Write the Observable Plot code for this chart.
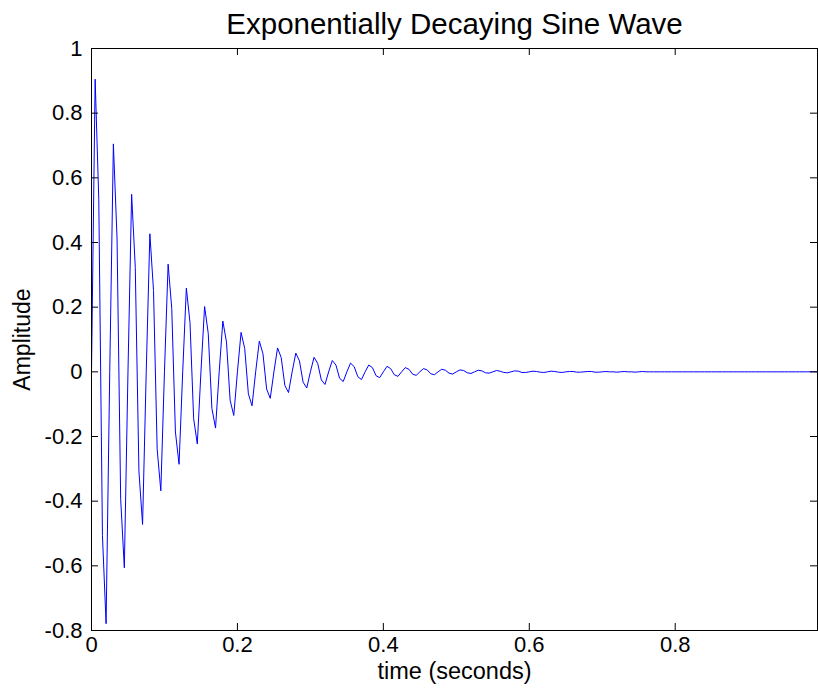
<!DOCTYPE html>
<html>
<head>
<meta charset="utf-8">
<script src="https://cdn.jsdelivr.net/npm/d3@7"></script>
<script src="https://cdn.jsdelivr.net/npm/@observablehq/plot@0.6"></script>
<style>
  html, body { margin: 0; padding: 0; background: #fff; }
  #chart svg { display: block; }
</style>
</head>
<body>
<div id="chart"></div>
<script>
// ---- data ----
const chartTitle = "Exponentially Decaying Sine Wave";
const xLabel = "time (seconds)";
const yLabel = "Amplitude";
const sampleStep = 0.005; // seconds between samples
const amplitude = [
  0, 0.905, 0.532, -0.506, -0.779,
  0, 0.705, 0.414, -0.394, -0.606,
  0, 0.549, 0.323, -0.307, -0.472,
  0, 0.427, 0.251, -0.239, -0.368,
  0, 0.333, 0.196, -0.186, -0.286,
  0, 0.259, 0.152, -0.145, -0.223,
  0, 0.202, 0.119, -0.113, -0.174,
  0, 0.157, 0.092, -0.088, -0.135,
  0, 0.122, 0.072, -0.068, -0.105,
  0, 0.095, 0.056, -0.053, -0.082,
  0, 0.074, 0.044, -0.042, -0.064,
  0, 0.058, 0.034, -0.032, -0.050,
  0, 0.045, 0.026, -0.025, -0.039,
  0, 0.035, 0.021, -0.020, -0.030,
  0, 0.027, 0.016, -0.015, -0.024,
  0, 0.021, 0.013, -0.012, -0.018,
  0, 0.017, 0.010, -0.009, -0.014,
  0, 0.013, 0.008, -0.007, -0.011,
  0, 0.010, 0.006, -0.006, -0.009,
  0, 0.008, 0.005, -0.004, -0.007,
  0, 0.006, 0.004, -0.003, -0.005,
  0, 0.005, 0.003, -0.003, -0.004,
  0, 0.004, 0.002, -0.002, -0.003,
  0, 0.003, 0.002, -0.002, -0.002,
  0, 0.002, 0.001, -0.001, -0.002,
  0, 0.002, 0.001, -0.001, -0.002,
  0, 0.001, 0.001, -0.001, -0.001,
  0, 0.001, 0.001, -0.001, -0.001,
  0, 0.001, 0, 0, -0.001,
  0, 0.001, 0, 0, -0.001,
  0, 0.001, 0, 0, 0,
  0, 0, 0, 0, 0,
  0, 0, 0, 0, 0,
  0, 0, 0, 0, 0,
  0, 0, 0, 0, 0,
  0, 0, 0, 0, 0,
  0, 0, 0, 0, 0,
  0, 0, 0, 0, 0,
  0, 0, 0, 0, 0,
  0, 0, 0, 0, 0
];
const xDomain = [0, 0.995];
const yDomain = [-0.8, 1];
const xTicks = [0, 0.2, 0.4, 0.6, 0.8];
const yTicks = [-0.8, -0.6, -0.4, -0.2, 0, 0.2, 0.4, 0.6, 0.8, 1];

// table for the line mark
const signal = amplitude.map((a, i) => ({t: i * sampleStep, a}));

const fmt = d => String(d);
const font = "'Liberation Sans', Arial, Helvetica, sans-serif";

const W = 818, H = 691, mL = 91, mR = 1, mT = 48, mB = 61, tick = 7;
const frameW = W - mL - mR, frameH = H - mT - mB;

const chart = Plot.plot({
  width: W,
  height: H,
  marginLeft: mL,
  marginRight: mR,
  marginTop: mT,
  marginBottom: mB,
  style: {fontFamily: font, fontSize: "22px", color: "#000", background: "#fff", overflow: "visible"},
  x: {domain: xDomain, label: null},
  y: {domain: yDomain, label: null},
  marks: [
    Plot.line(signal, {x: "t", y: "a", stroke: "#0000ff", strokeWidth: 1}),
    // inward ticks on all four sides (MATLAB box style)
    Plot.tickX(xTicks, {x: d => d, insetTop: frameH - tick, stroke: "#000"}),
    Plot.tickX(xTicks, {x: d => d, insetBottom: frameH - tick, stroke: "#000"}),
    Plot.tickY(yTicks, {y: d => d, insetRight: frameW - tick, stroke: "#000"}),
    Plot.tickY(yTicks, {y: d => d, insetLeft: frameW - tick, stroke: "#000"}),
    Plot.frame({stroke: "#000", strokeWidth: 1}),
    Plot.axisX(xTicks, {anchor: "bottom", tickSize: 0, tickPadding: 6, tickFormat: fmt, label: null, fill: "#000"}),
    Plot.axisY(yTicks, {anchor: "left", tickSize: 0, tickPadding: 9, tickFormat: fmt, label: null, fill: "#000"}),
    Plot.text([chartTitle], {frameAnchor: "top", dy: -24, lineAnchor: "middle", textAnchor: "middle", fontSize: 29.5, fill: "#000"}),
    Plot.text([xLabel], {frameAnchor: "bottom", dy: 41, lineAnchor: "middle", textAnchor: "middle", fontSize: 23.5, fill: "#000"}),
    Plot.text([yLabel], {frameAnchor: "left", dx: -69, rotate: -90, lineAnchor: "middle", textAnchor: "middle", fontSize: 23, fill: "#000"})
  ]
});
document.getElementById("chart").appendChild(chart);
</script>
</body>
</html>
